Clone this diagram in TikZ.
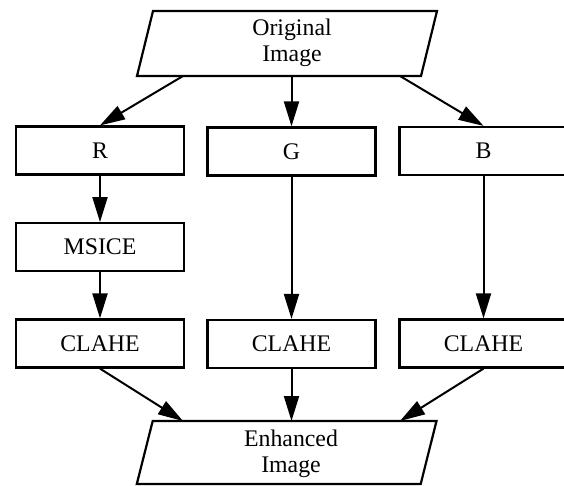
\documentclass[tikz,border=0pt]{standalone}
\usepackage{fontspec}
\setmainfont{Liberation Serif}
\usetikzlibrary{arrows.meta}
\tikzset{
  procbox/.style={draw, line width=2.2bp, minimum width=168bp, minimum height=48bp, inner sep=0pt, font=\fontsize{23.9pt}{26.1pt}\selectfont},
  iobox/.style={draw, line width=2.2bp, line join=miter},
  iotext/.style={align=center, inner sep=0pt, font=\fontsize{23.9pt}{26.1pt}\selectfont},
  arr/.style={line width=2bp, -{Triangle[length=25bp,width=15bp]}}
}
\begin{document}
\begin{tikzpicture}[x=1bp,y=-1bp]
\useasboundingbox (0,0) rectangle (564,486);
\fill[white] (0,0) rectangle (564,486);
% top parallelogram
\draw[iobox] (153,11) -- (437,11) -- (421,76) -- (137,76) -- cycle;
\node[iotext] (orig) at (292,43.2) {Original\\Image};
\coordinate (o1) at (183,76);
\coordinate (o2) at (291.5,77);
\coordinate (o3) at (400,76);
% bottom parallelogram
\draw[iobox] (152.7,421) -- (436.5,421) -- (420.7,484) -- (136.8,484) -- cycle;
\node[iotext] (enh) at (291,454.2) {Enhanced\\Image};
\coordinate (e1) at (183,421);
\coordinate (e2) at (291.5,421);
\coordinate (e3) at (400,421);
% boxes
\node[procbox] (R) at (100,150.5) {R};
\node[procbox] (G) at (291.5,151.5) {G};
\node[procbox] (B) at (483.5,151) {B};
\node[procbox] (M) at (100,247.2) {MSICE};
\node[procbox] (C1) at (100,343.5) {CLAHE};
\node[procbox] (C2) at (291.5,344) {CLAHE};
\node[procbox] (C3) at (483.5,343.5) {CLAHE};
% connectors
\draw[arr] (o1) -- (R.north);
\draw[arr] (o2) -- (G.north);
\draw[arr] (o3) -- (B.north);
\draw[arr] (R.south) -- (M.north);
\draw[arr] (M.south) -- (C1.north);
\draw[arr] (G.south) -- (C2.north);
\draw[arr] (B.south) -- (C3.north);
\draw[arr] (C1.south) -- (e1);
\draw[arr] (C2.south) -- (e2);
\draw[arr] (C3.south) -- (e3);
\end{tikzpicture}
\end{document}
